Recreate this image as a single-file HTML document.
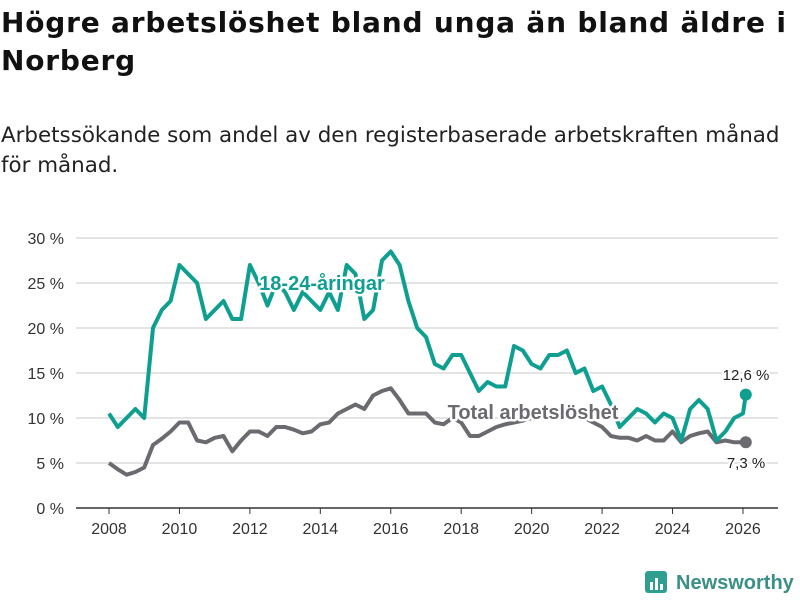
<!DOCTYPE html>
<html><head><meta charset="utf-8"><style>
body{margin:0;width:800px;height:600px;background:#fff;overflow:hidden;font-family:"Liberation Sans",sans-serif}
h1{position:absolute;left:1px;top:4px;margin:0;font-family:"DejaVu Sans",sans-serif;font-size:28px;letter-spacing:0.8px;line-height:38px;font-weight:bold;color:#111;width:799px;white-space:nowrap}
p{position:absolute;left:1px;top:121px;margin:0;font-family:"DejaVu Sans",sans-serif;font-size:21.4px;line-height:30px;color:#222;width:799px;white-space:nowrap}
svg{position:absolute;left:0;top:0}
</style></head><body>
<h1>Högre arbetslöshet bland unga än bland äldre i<br>Norberg</h1>
<p>Arbetssökande som andel av den registerbaserade arbetskraften månad<br>för månad.</p>
<svg width="800" height="600" id="chart"></svg>
<script>
const years=[];for(let i=0;i<=72;i++)years.push(2008+i*0.25);years.push(2026.08);
const youth=[10.5,9,10,11,10,20,22,23,27,26,25,21,22,23,21,21,27,25,22.5,25,24,22,24,23,22,24,22,27,26,21,22,27.5,28.5,27,23,20,19,16,15.5,17,17,15,13,14,13.5,13.5,18,17.5,16,15.5,17,17,17.5,15,15.5,13,13.5,11.5,9,10,11,10.5,9.5,10.5,10,7.5,11,12,11,7.5,8.5,10,10.5,12.6];
const total=[5,4.3,3.7,4,4.5,7,7.7,8.5,9.5,9.5,7.5,7.3,7.8,8,6.3,7.5,8.5,8.5,8,9,9,8.7,8.3,8.5,9.3,9.5,10.5,11,11.5,11,12.5,13,13.3,12,10.5,10.5,10.5,9.5,9.3,10,9.5,8,8,8.5,9,9.3,9.5,9.7,10,10.3,10.5,10.5,10.5,10.3,10,9.5,9,8,7.8,7.8,7.5,8,7.5,7.5,8.5,7.3,8,8.3,8.5,7.3,7.5,7.3,7.3,7.3];
const yTicks=[0,5,10,15,20,25,30];
const xTicks=[2008,2010,2012,2014,2016,2018,2020,2022,2024,2026];
const NS='http://www.w3.org/2000/svg',svg=document.getElementById('chart');
const X=v=>109+(v-2008)*35.22, Y=v=>508-v*9;
function mk(t,a,txt){const e=document.createElementNS(NS,t);for(const k in a)e.setAttribute(k,a[k]);if(txt!=null)e.textContent=txt;svg.appendChild(e);return e;}
yTicks.forEach(v=>{
 const l=mk('line',{x1:76,x2:778,y1:Y(v),y2:Y(v),stroke:v?'#dcdcdc':'#333','stroke-width':1.5});
 
 const t=mk('text',{x:64,y:Y(v)+6,'text-anchor':'end','font-size':16,fill:'#333'},v+' %');
 
});
xTicks.forEach(v=>{
 const l=mk('line',{x1:X(v),x2:X(v),y1:508,y2:514,stroke:'#333'});
 
 const t=mk('text',{x:X(v),y:534,'text-anchor':'middle','font-size':16,fill:'#333'},v);
 
});
function line(vals,c,name){
 const d=vals.map((v,i)=>(i?'L':'M')+X(years[i]).toFixed(1)+','+Y(v).toFixed(1)).join('');
 const p=mk('path',{d,fill:'none',stroke:c,'stroke-width':4,'stroke-linejoin':'round'});
 
 const n=vals.length-1;
 const c2=mk('circle',{cx:X(years[n]),cy:Y(vals[n]),r:6,fill:c});
 
}
line(total,'#6b6a70','total-line');
line(youth,'#0e9f91','youth-line');
function lab(x,y,txt,c,name,bold,anchor,size){
 const t=mk('text',{x,y,'text-anchor':anchor,'font-size':size,'font-weight':bold?'bold':'normal',fill:c,stroke:'#fff','stroke-width':bold?5:4,'paint-order':'stroke','stroke-linejoin':'round'},txt);
 
}
lab(322,290,'18-24-åringar','#0e9f91','youth-series-label',true,'middle',20);
lab(533,419,'Total arbetslöshet','#6b6a70','total-series-label',true,'middle',20);
lab(746,380,'12,6 %','#222','youth-end-value',false,'middle',15);
lab(746,468,'7,3 %','#222','total-end-value',false,'middle',15);
</script>
<svg width="800" height="600" style="pointer-events:none">
<rect x="645" y="571" width="22" height="22" rx="3" fill="#2f9e8e"/>
<rect x="650" y="582" width="3" height="8" fill="#fff"/><rect x="655" y="578" width="3" height="12" fill="#fff"/><rect x="660" y="584" width="3" height="6" fill="#fff"/>
<text x="676" y="589" font-size="20" font-weight="bold" fill="#3a8f86" font-family="Liberation Sans,sans-serif">Newsworthy</text>
</svg>
</body></html>
